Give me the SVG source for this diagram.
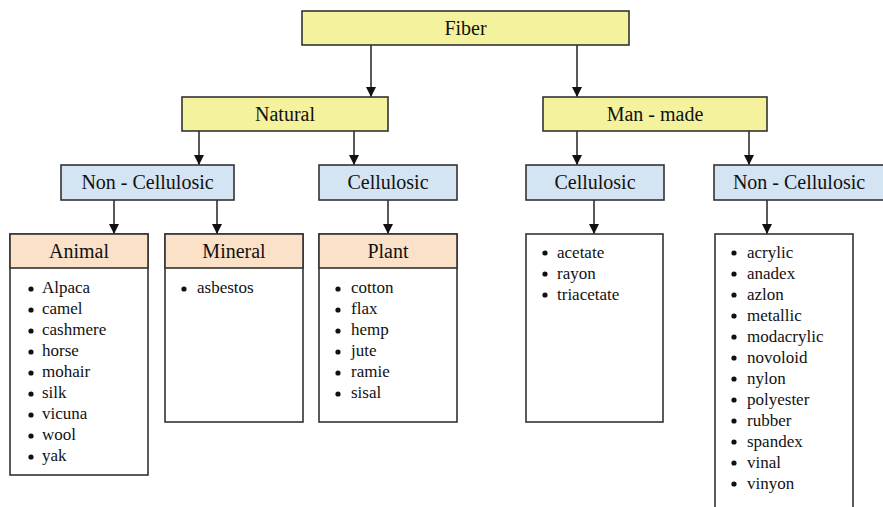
<svg xmlns="http://www.w3.org/2000/svg" width="883" height="507" viewBox="0 0 883 507" font-family="Liberation Serif, DejaVu Serif, serif">
<style>
.box{stroke:#333;stroke-width:1.6}
.y{fill:#f4f29c}
.b{fill:#d5e4f3}
.p{fill:#fbe1c8}
.w{fill:#fff}
text{fill:#111}
.h{font-size:20px;text-anchor:middle}
.li text{font-size:17px}
.con line{stroke:#222;stroke-width:1.5;marker-end:url(#ah)}
</style>
<defs>
<marker id="ah" viewBox="0 0 10 10" refX="10" refY="5" markerWidth="10" markerHeight="10" markerUnits="userSpaceOnUse" orient="auto">
<path d="M0,0 L10,5 L0,10 z" fill="#111"/>
</marker>
<circle id="dot" r="2.6" fill="#111"/>
</defs>
<rect width="883" height="507" fill="#fff"/>
<g class="con">
<line x1="371" y1="45" x2="371" y2="97"/>
<line x1="577" y1="45" x2="577" y2="97"/>
<line x1="199" y1="131" x2="199" y2="165"/>
<line x1="354" y1="131" x2="354" y2="165"/>
<line x1="577" y1="131" x2="577" y2="165"/>
<line x1="749" y1="131" x2="749" y2="165"/>
<line x1="114" y1="200" x2="114" y2="234"/>
<line x1="217" y1="200" x2="217" y2="234"/>
<line x1="388" y1="200" x2="388" y2="234"/>
<line x1="594" y1="200" x2="594" y2="234"/>
<line x1="767" y1="200" x2="767" y2="234"/>
</g>
<g id="fiber"><rect class="box y" x="302" y="11" width="327" height="34"/><text class="h" x="465.5" y="35" font-family="Liberation Serif">Fiber</text></g>
<g id="natural"><rect class="box y" x="182" y="97" width="206" height="34"/><text class="h" x="285" y="121">Natural</text></g>
<g id="manmade"><rect class="box y" x="543" y="97" width="224" height="34"/><text class="h" x="655" y="121">Man - made</text></g>
<g id="nat-noncell"><rect class="box b" x="61" y="165" width="173" height="35"/><text class="h" x="147.5" y="189">Non - Cellulosic</text></g>
<g id="nat-cell"><rect class="box b" x="319" y="165" width="138" height="35"/><text class="h" x="388" y="189">Cellulosic</text></g>
<g id="mm-cell"><rect class="box b" x="526" y="165" width="138" height="35"/><text class="h" x="595" y="189">Cellulosic</text></g>
<g id="mm-noncell"><rect class="box b" x="714" y="165" width="170" height="35"/><text class="h" x="799" y="189">Non - Cellulosic</text></g>
<g id="animal">
<rect class="box w" x="10" y="234" width="138" height="241"/>
<rect class="box p" x="10" y="234" width="138" height="34"/>
<text class="h" x="79" y="258">Animal</text>
<g class="li">
<use href="#dot" x="31" y="289"/><text x="42" y="293">Alpaca</text>
<use href="#dot" x="31" y="310"/><text x="42" y="314">camel</text>
<use href="#dot" x="31" y="331"/><text x="42" y="335">cashmere</text>
<use href="#dot" x="31" y="352"/><text x="42" y="356">horse</text>
<use href="#dot" x="31" y="373"/><text x="42" y="377">mohair</text>
<use href="#dot" x="31" y="394"/><text x="42" y="398">silk</text>
<use href="#dot" x="31" y="415"/><text x="42" y="419">vicuna</text>
<use href="#dot" x="31" y="436"/><text x="42" y="440">wool</text>
<use href="#dot" x="31" y="457"/><text x="42" y="461">yak</text>
</g>
</g>
<g id="mineral">
<rect class="box w" x="165" y="234" width="138" height="188"/>
<rect class="box p" x="165" y="234" width="138" height="34"/>
<text class="h" x="234" y="258">Mineral</text>
<g class="li"><use href="#dot" x="184" y="289"/><text x="197" y="293">asbestos</text></g>
</g>
<g id="plant">
<rect class="box w" x="319" y="234" width="138" height="188"/>
<rect class="box p" x="319" y="234" width="138" height="34"/>
<text class="h" x="388" y="258">Plant</text>
<g class="li">
<use href="#dot" x="338" y="289"/><text x="351" y="293">cotton</text>
<use href="#dot" x="338" y="310"/><text x="351" y="314">flax</text>
<use href="#dot" x="338" y="331"/><text x="351" y="335">hemp</text>
<use href="#dot" x="338" y="352"/><text x="351" y="356">jute</text>
<use href="#dot" x="338" y="373"/><text x="351" y="377">ramie</text>
<use href="#dot" x="338" y="394"/><text x="351" y="398">sisal</text>
</g>
</g>
<g id="mm-cell-list">
<rect class="box w" x="526" y="234" width="137" height="188"/>
<g class="li">
<use href="#dot" x="545" y="253"/><text x="557" y="258">acetate</text>
<use href="#dot" x="545" y="274"/><text x="557" y="279">rayon</text>
<use href="#dot" x="545" y="295"/><text x="557" y="300">triacetate</text>
</g>
</g>
<g id="mm-noncell-list">
<rect class="box w" x="715" y="234" width="138" height="280"/>
<g class="li">
<use href="#dot" x="734" y="253"/><text x="747" y="258">acrylic</text>
<use href="#dot" x="734" y="274"/><text x="747" y="279">anadex</text>
<use href="#dot" x="734" y="295"/><text x="747" y="300">azlon</text>
<use href="#dot" x="734" y="316"/><text x="747" y="321">metallic</text>
<use href="#dot" x="734" y="337"/><text x="747" y="342">modacrylic</text>
<use href="#dot" x="734" y="358"/><text x="747" y="363">novoloid</text>
<use href="#dot" x="734" y="379"/><text x="747" y="384">nylon</text>
<use href="#dot" x="734" y="400"/><text x="747" y="405">polyester</text>
<use href="#dot" x="734" y="421"/><text x="747" y="426">rubber</text>
<use href="#dot" x="734" y="442"/><text x="747" y="447">spandex</text>
<use href="#dot" x="734" y="463"/><text x="747" y="468">vinal</text>
<use href="#dot" x="734" y="484"/><text x="747" y="489">vinyon</text>
</g>
</g>
</svg>
